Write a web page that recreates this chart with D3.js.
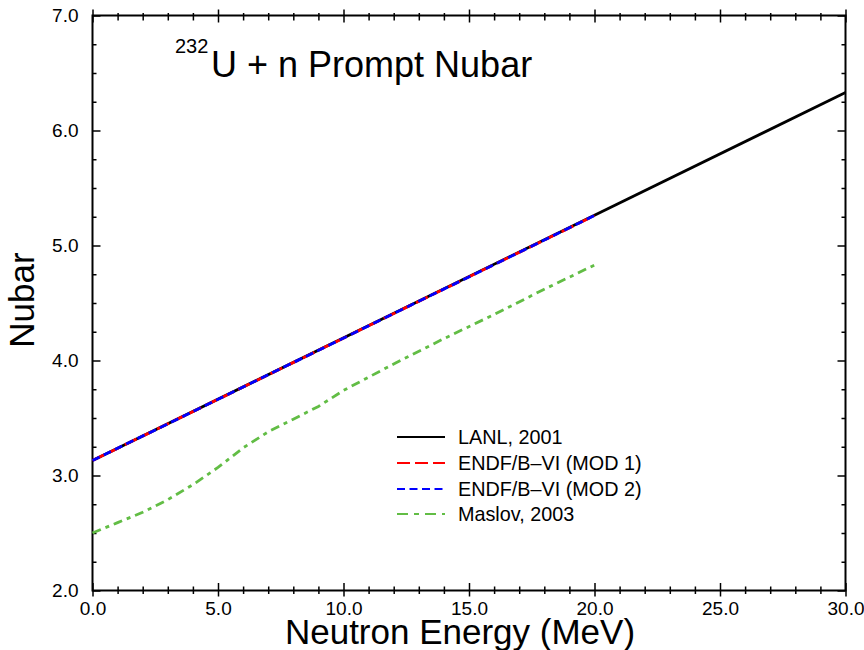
<!DOCTYPE html>
<html>
<head>
<meta charset="utf-8">
<script src="https://cdn.jsdelivr.net/npm/d3@7"></script>
<style>
  html, body { margin: 0; padding: 0; background: #fff; }
  svg { display: block; }
  text { font-family: "Liberation Sans", Arial, Helvetica, sans-serif; fill: #000; }
</style>
</head>
<body>
<script>
// Prompt nubar for 232U + n, several evaluations
const lanlEnergy = [0, 30];
const lanlNubar = [3.13, 6.33];

const endfMod1Energy = [0, 20];
const endfMod1Nubar = [3.13, 5.26];

const endfMod2Energy = [0, 20];
const endfMod2Nubar = [3.13, 5.26];

const maslovEnergy = [0, 1, 2, 3, 4, 5, 6, 7, 8, 9, 10, 12, 14, 16, 18, 20];
const maslovNubar = [2.50, 2.59, 2.68, 2.79, 2.92, 3.07, 3.24, 3.38, 3.49, 3.60, 3.74, 3.97, 4.19, 4.40, 4.62, 4.83];

const xMajorTicks = [0, 5, 10, 15, 20, 25, 30];
const yMajorTicks = [2, 3, 4, 5, 6, 7];

const legendLabels = ["LANL, 2001", "ENDF/B\u2013VI (MOD 1)", "ENDF/B\u2013VI (MOD 2)", "Maslov, 2003"];

const W = 864, H = 650;
const pLeft = 92.5, pRight = 845.5, pTop = 15.5, pBottom = 590.5;

const svg = d3.select("body").append("svg").attr("width", W).attr("height", H);

const x = d3.scaleLinear().domain([0, 30]).range([pLeft, pRight]);
const y = d3.scaleLinear().domain([2, 7]).range([pBottom, pTop]);

const xMinor = d3.range(0, 30.001, 1).filter(v => v % 5 !== 0);
const yMinor = d3.range(2, 7.001, 0.25).filter(v => Math.abs(v - Math.round(v)) > 1e-6);

// bottom axis: labels + ticks crossing the frame
const gB = svg.append("g").attr("transform", `translate(0,${pBottom})`)
  .call(d3.axisBottom(x).tickValues(xMajorTicks).tickSize(6).tickSizeOuter(0)
        .tickFormat(d3.format(".1f")));
gB.select(".domain").remove();
gB.selectAll(".tick line").attr("y1", -7.5).attr("y2", 6).attr("stroke", "#000").attr("stroke-width", 1.5);
gB.selectAll(".tick text").attr("font-size", 19).attr("dy", "0.71em").attr("y", 11.5);
const gBm = svg.append("g").attr("transform", `translate(0,${pBottom})`)
  .call(d3.axisBottom(x).tickValues(xMinor).tickSize(3.5).tickSizeOuter(0).tickFormat(""));
gBm.select(".domain").remove();
gBm.selectAll(".tick line").attr("y1", -4).attr("y2", 3.5).attr("stroke", "#000").attr("stroke-width", 1.5);

// top axis: ticks only
const gT = svg.append("g").attr("transform", `translate(0,${pTop})`)
  .call(d3.axisTop(x).tickValues(xMajorTicks).tickSize(6).tickSizeOuter(0).tickFormat(""));
gT.select(".domain").remove();
gT.selectAll(".tick line").attr("y1", -6).attr("y2", 7).attr("stroke", "#000").attr("stroke-width", 1.5);
const gTm = svg.append("g").attr("transform", `translate(0,${pTop})`)
  .call(d3.axisTop(x).tickValues(xMinor).tickSize(3).tickSizeOuter(0).tickFormat(""));
gTm.select(".domain").remove();
gTm.selectAll(".tick line").attr("y1", -2.5).attr("y2", 5).attr("stroke", "#000").attr("stroke-width", 1.5);

// left axis: inward ticks and labels
const gL = svg.append("g").attr("transform", `translate(${pLeft},0)`)
  .call(d3.axisLeft(y).tickValues(yMajorTicks).tickSize(-8).tickSizeOuter(0)
        .tickFormat(d3.format(".1f")));
gL.select(".domain").remove();
gL.selectAll(".tick line").attr("stroke", "#000").attr("stroke-width", 1.5);
gL.selectAll(".tick text").attr("font-size", 19).attr("x", -14);
const gLm = svg.append("g").attr("transform", `translate(${pLeft},0)`)
  .call(d3.axisLeft(y).tickValues(yMinor).tickSize(-4).tickSizeOuter(0).tickFormat(""));
gLm.select(".domain").remove();
gLm.selectAll(".tick line").attr("stroke", "#000").attr("stroke-width", 1.5);

// right axis: inward ticks
const gR = svg.append("g").attr("transform", `translate(${pRight},0)`)
  .call(d3.axisRight(y).tickValues(yMajorTicks).tickSize(-8).tickSizeOuter(0).tickFormat(""));
gR.select(".domain").remove();
gR.selectAll(".tick line").attr("stroke", "#000").attr("stroke-width", 1.5);
const gRm = svg.append("g").attr("transform", `translate(${pRight},0)`)
  .call(d3.axisRight(y).tickValues(yMinor).tickSize(-4).tickSizeOuter(0).tickFormat(""));
gRm.select(".domain").remove();
gRm.selectAll(".tick line").attr("stroke", "#000").attr("stroke-width", 1.5);

// frame
svg.append("rect").attr("x", pLeft).attr("y", pTop)
  .attr("width", pRight - pLeft).attr("height", pBottom - pTop)
  .attr("fill", "none").attr("stroke", "#000").attr("stroke-width", 2);

// curves
const line = d3.line().x(d => x(d[0])).y(d => y(d[1]));
const zip = (a, b) => a.map((v, i) => [v, b[i]]);

const series = [
  { e: maslovEnergy, v: maslovNubar, color: "#62bd45", dash: "9,5,4,5" },
  { e: lanlEnergy, v: lanlNubar, color: "#000000", dash: null },
  { e: endfMod1Energy, v: endfMod1Nubar, color: "#ff0000", dash: "13,5" },
  { e: endfMod2Energy, v: endfMod2Nubar, color: "#0000ff", dash: "8,4.5" }
];

const plot = svg.append("g");
series.forEach(s => {
  plot.append("path")
    .attr("d", line(zip(s.e, s.v)))
    .attr("fill", "none")
    .attr("stroke", s.color)
    .attr("stroke-width", 2.8)
    .attr("stroke-dasharray", s.dash);
});

// legend
const legendStyles = [
  { color: "#000000", dash: null },
  { color: "#ff0000", dash: "13,5" },
  { color: "#0000ff", dash: "8,4.5" },
  { color: "#62bd45", dash: "11,6,5,6" }
];
const legendY = [437, 463, 489, 514];
legendLabels.forEach((lab, i) => {
  svg.append("line")
    .attr("x1", 397).attr("x2", 445)
    .attr("y1", legendY[i]).attr("y2", legendY[i])
    .attr("stroke", legendStyles[i].color)
    .attr("stroke-width", 2.2)
    .attr("stroke-dasharray", legendStyles[i].dash);
  svg.append("text")
    .attr("x", 458).attr("y", legendY[i] + 7)
    .attr("font-size", 19.8)
    .text(lab);
});

// title
svg.append("text").attr("x", 175).attr("y", 53).attr("font-size", 20).text("232");
svg.append("text").attr("x", 211).attr("y", 77).attr("font-size", 36).text("U + n Prompt Nubar");

// axis titles
svg.append("text")
  .attr("x", 460).attr("y", 643.5)
  .attr("text-anchor", "middle")
  .attr("font-size", 35)
  .text("Neutron Energy (MeV)");

svg.append("text")
  .attr("transform", `translate(34,300) rotate(-90)`)
  .attr("text-anchor", "middle")
  .attr("font-size", 35)
  .text("Nubar");
</script>
</body>
</html>
